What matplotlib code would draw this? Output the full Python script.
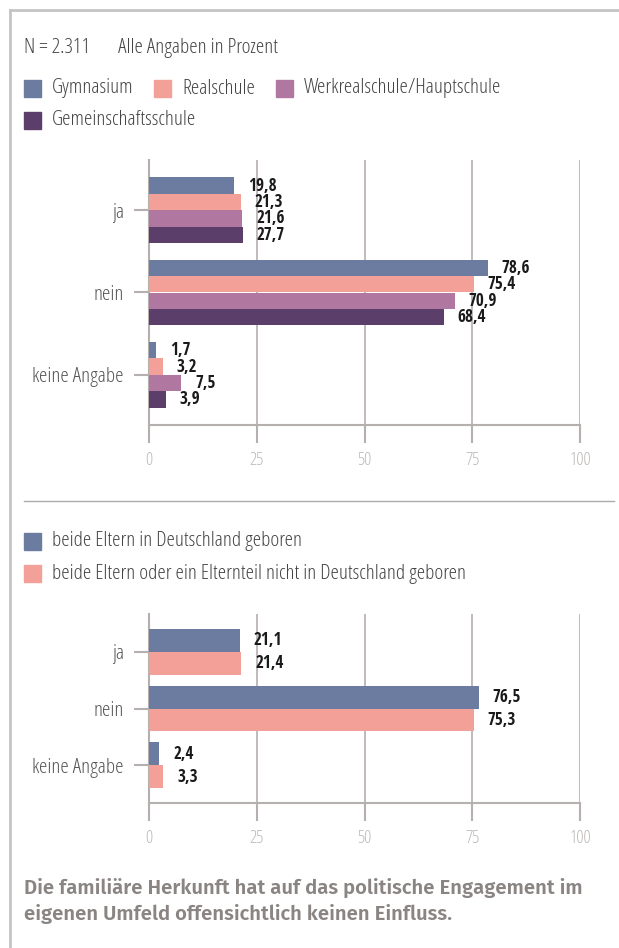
import matplotlib
matplotlib.use("Agg")
from matplotlib import pyplot as plt
from matplotlib.lines import Line2D
from matplotlib.patches import Rectangle
import numpy as np

# --- data ---
categories = ["ja", "nein", "keine Angabe"]

school_names = ["Gymnasium", "Realschule", "Werkrealschule/Hauptschule", "Gemeinschaftsschule"]
gymnasium = [19.8, 78.6, 1.7]
realschule = [21.3, 75.4, 3.2]
werkreal = [21.6, 70.9, 7.5]
gemeinschaft = [27.7, 68.4, 3.9]
# in the original the "ja" bar of Gemeinschaftsschule is drawn at about 21.7
gemeinschaft_drawn = [21.7, 68.4, 3.9]

origin_names = ["beide Eltern in Deutschland geboren",
                "beide Eltern oder ein Elternteil nicht in Deutschland geboren"]
both_de = [21.1, 76.5, 2.4]
not_de = [21.4, 75.3, 3.3]

x_ticks = [0, 25, 50, 75, 100]

school_colors = ["#6c7ca0", "#f2a098", "#b077a0", "#5c3e6a"]
origin_colors = school_colors[:2]

W, H = 619, 948
LIGHT = dict(family=["Open Sans", "DejaVu Sans"], fontstretch="condensed", fontweight=300)
BOLD = dict(family=["Open Sans Condensed", "DejaVu Sans"], fontweight="bold")
GRID = "#b5afad"
TEXT = "#444444"

fig = plt.figure(figsize=(W / 100, H / 100), dpi=100)


def fx(px):
    return px / W


def fy(py):
    return 1 - py / H


def make_axes(top, bottom):
    return fig.add_axes([fx(149), fy(bottom), fx(580) - fx(149), fy(top) - fy(bottom)])


def style_axes(ax, n_cat, pad):
    ax.set_xlim(0, 100)
    ax.set_ylim(n_cat - 1 + pad, -pad)
    ax.set_xticks(x_ticks)
    ax.set_xticklabels([str(t) for t in x_ticks], fontsize=13, color="#bdb8b5", **LIGHT)
    ax.set_yticks(range(n_cat))
    ax.set_yticklabels(categories, fontsize=15.2, color="#555555", **LIGHT)
    ax.tick_params(axis="x", length=13, width=1.5, color=GRID, pad=6)
    ax.tick_params(axis="y", length=11, width=1.5, color=GRID, pad=7)
    for s in ["top", "right"]:
        ax.spines[s].set_visible(False)
    for s in ["left", "bottom"]:
        ax.spines[s].set_color(GRID)
        ax.spines[s].set_linewidth(1.5)
    ax.grid(axis="x", color=GRID, linewidth=1.2)
    ax.set_axisbelow(True)


def bars(ax, series, drawn, colors, height):
    n = len(series)
    y = np.arange(len(categories))
    for i, (vals, lens, c) in enumerate(zip(series, drawn, colors)):
        pos = y - height * n / 2 + height * (i + 0.5)
        ax.barh(pos, lens, height=height, color=c, zorder=3)
        for p, v, l in zip(pos, vals, lens):
            ax.annotate(f"{v:.1f}".replace(".", ","), (l, p), xytext=(10, 0),
                        textcoords="offset points", ha="left", va="center",
                        fontsize=12.3, color="#1a1a1a", **BOLD)


# --- chart 1 ---
ax1 = make_axes(160, 425)
style_axes(ax1, 3, 0.61)
bars(ax1, [gymnasium, realschule, werkreal, gemeinschaft],
     [gymnasium, realschule, werkreal, gemeinschaft_drawn], school_colors, 0.2)

# --- chart 2 ---
ax2 = make_axes(614, 803)
style_axes(ax2, 3, 0.67)
bars(ax2, [both_de, not_de], [both_de, not_de], origin_colors, 0.405)

# --- header and legends ---
fig.text(fx(24), fy(48), "N = 2.311       Alle Angaben in Prozent", fontsize=15.2,
         color=TEXT, va="center", **LIGHT)


def legend_item(x, y, color, label):
    fig.patches.append(Rectangle((fx(x), fy(y + 8.5)), fx(17), 17 / H, color=color,
                                 transform=fig.transFigure, figure=fig))
    fig.text(fx(x + 28), fy(y), label, fontsize=15.2, color=TEXT, va="center", **LIGHT)


legend_item(24, 88.5, school_colors[0], school_names[0])
legend_item(154, 88.5, school_colors[1], school_names[1])
legend_item(276, 88.5, school_colors[2], school_names[2])
legend_item(24, 120, school_colors[3], school_names[3])
legend_item(24, 541, origin_colors[0], origin_names[0])
legend_item(24, 573.5, origin_colors[1], origin_names[1])

# --- frame and separator ---
fig.add_artist(Line2D([fx(10), 1], [fy(10), fy(10)], color="#c4c4c4", linewidth=2))
fig.add_artist(Line2D([fx(10), fx(10)], [fy(10), 0], color="#c4c4c4", linewidth=2))
fig.add_artist(Line2D([fx(24), fx(614)], [fy(501), fy(501)], color="#aaaaaa", linewidth=1))

# --- caption ---
FIRA = ["Fira Sans", "DejaVu Sans"]
fig.text(fx(24), fy(888), "Die familiäre Herkunft hat auf das politische Engagement im",
         family=FIRA, fontweight=600, fontsize=14.6, color="#8a8582", va="center")
fig.text(fx(24), fy(914), "eigenen Umfeld offensichtlich keinen Einfluss.",
         family=FIRA, fontweight=600, fontsize=14.6, color="#8a8582", va="center")

fig.savefig("out.png", dpi=100)
